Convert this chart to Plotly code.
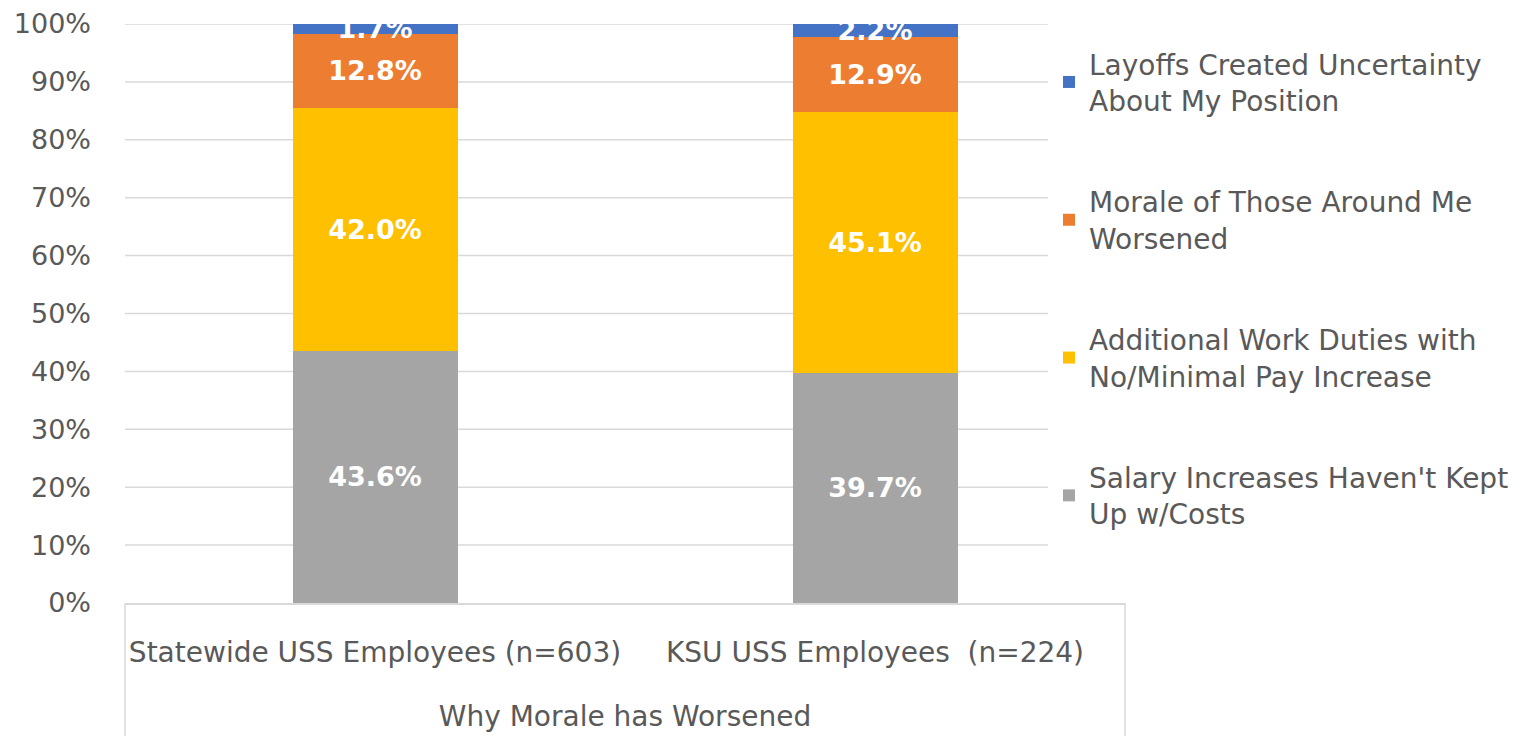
import plotly.graph_objects as go

categories = ["Statewide USS Employees (n=603)", "KSU USS Employees  (n=224)"]
axis_title = "Why Morale has Worsened"

series_names = [
    "Salary Increases Haven't Kept<br>Up w/Costs",
    "Additional Work Duties with<br>No/Minimal Pay Increase",
    "Morale of Those Around Me<br>Worsened",
    "Layoffs Created Uncertainty<br>About My Position",
]
salary = [43.6, 39.7]
additional = [42.0, 45.1]
morale = [12.8, 12.9]
layoffs = [1.7, 2.2]

y_ticks = [0, 10, 20, 30, 40, 50, 60, 70, 80, 90, 100]
y_ticktext = [f"{t}%" for t in y_ticks]

colors = ["#A5A5A5", "#FFC000", "#ED7D31", "#4472C4"]
font_family = "DejaVu Sans"
grey_text = "#595959"
line_grey = "#D9D9D9"

fig = go.Figure()
for i, (name, vals) in enumerate(zip(series_names, [salary, additional, morale, layoffs])):
    fig.add_trace(go.Bar(
        x=categories,
        y=vals,
        name=name,
        legendgroup=str(i),
        legendrank=10 - i,  # top of stack first in legend
        marker=dict(color=colors[i], line=dict(width=0)),
        text=[f"{v:.1f}%" for v in vals],
        textposition="inside",
        insidetextanchor="middle",
        constraintext="none",
        textangle=0,
        textfont=dict(family=font_family, size=27, color="white", weight="bold"),
    ))

# gridlines stop where the legend area begins (as in the Excel chart)
for t in y_ticks[1:]:
    fig.add_shape(type="line", xref="x domain", yref="y", x0=0, x1=0.923, y0=t, y1=t,
                  line=dict(color=line_grey, width=1.5), layer="below")

# box lines around the category axis area (Excel style)
for xp in [0, 1]:
    fig.add_shape(type="line", xref="paper", yref="paper", x0=xp, x1=xp, y0=0, y1=-0.3,
                  line=dict(color=line_grey, width=1.5))

fig.update_layout(
    barmode="stack",
    barnorm="percent",
    bargap=0.67,
    width=1526,
    height=736,
    margin=dict(l=117, r=409, t=16, b=141),
    paper_bgcolor="white",
    plot_bgcolor="white",
    font=dict(family=font_family, size=28, color=grey_text),
    legend=dict(
        x=0.924,
        xanchor="left",
        y=0.974,
        yanchor="top",
        bgcolor="rgba(0,0,0,0)",
        traceorder="grouped",
        tracegroupgap=62,
        font=dict(family=font_family, size=28, color=grey_text),
        itemwidth=30,
    ),
    xaxis=dict(
        type="category",
        automargin=False,
        showline=True,
        linecolor=line_grey,
        linewidth=1.5,
        tickfont=dict(family=font_family, size=28, color=grey_text),
        ticklabelstandoff=24,
        title=dict(text=axis_title, standoff=38,
                   font=dict(family=font_family, size=28, color=grey_text)),
    ),
    yaxis=dict(
        automargin=False,
        range=[0, 100],
        tickvals=y_ticks,
        ticktext=y_ticktext,
        showgrid=False,
        zeroline=False,
        tickfont=dict(family=font_family, size=27, color=grey_text),
        ticklabelstandoff=33,
    ),
)

fig.write_html("out.html")
